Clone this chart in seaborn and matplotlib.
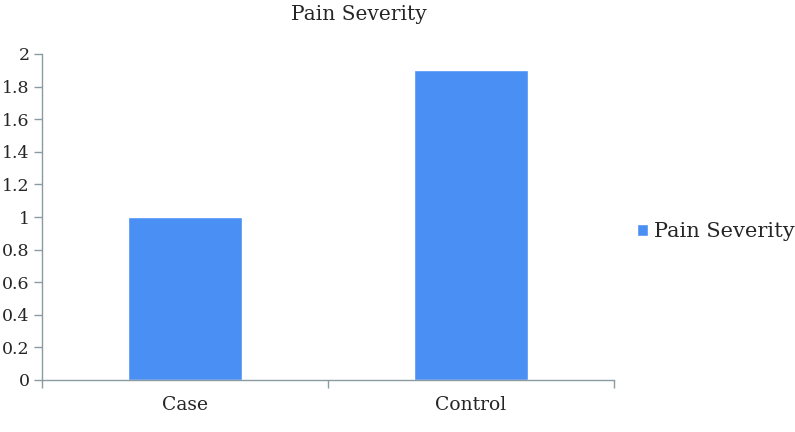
import matplotlib
matplotlib.use("Agg")
import matplotlib.pyplot as plt
import seaborn as sns
import pandas as pd
from matplotlib.ticker import FixedLocator, NullFormatter

categories = ["Case", "Control"]
values = [1.0, 1.9]
series_name = "Pain Severity"
title = "Pain Severity"
yticks = [0, 0.2, 0.4, 0.6, 0.8, 1, 1.2, 1.4, 1.6, 1.8, 2]
ytick_labels = ["0", "0.2", "0.4", "0.6", "0.8", "1", "1.2", "1.4", "1.6", "1.8", "2"]

df = pd.DataFrame({"Group": categories, "Value": values, "Series": series_name})

sns.set_style("white")
plt.rcParams['font.family'] = ['DejaVu Serif']

fig = plt.figure(figsize=(7.95, 4.32), dpi=100)
ax = fig.add_axes([42/795, 1-380/432, (614-42)/795, (380-54)/432])

bar_color = "#4A8FF3"
sns.barplot(data=df, x="Group", y="Value", hue="Series", palette=[bar_color],
            width=0.4, ax=ax, saturation=1)

ax.set_xlim(-0.5, 1.5)
ax.set_ylim(0, 2)
ax.set_yticks(yticks)
ax.set_yticklabels(ytick_labels, fontsize=12.5)
ax.set_xlabel("")
ax.set_ylabel("")
gray = "#8A9BA3"
ax.tick_params(axis='x', which='major', bottom=False, labelsize=13.5, pad=8)
ax.xaxis.set_minor_locator(FixedLocator([-0.5, 0.5, 1.5]))
ax.xaxis.set_minor_formatter(NullFormatter())
ax.tick_params(axis='x', which='minor', bottom=True, length=6, width=1, color=gray, direction='out')
ax.tick_params(axis='y', left=True, length=6, width=1, color=gray, direction='out', labelsize=12.5, pad=3)

for s in ["top", "right"]:
    ax.spines[s].set_visible(False)
for s in ["left", "bottom"]:
    ax.spines[s].set_color(gray)
    ax.spines[s].set_linewidth(1.0)

fig.text(359/795, 1-14/432, title, fontsize=14.5, ha='center', va='center')

leg = ax.legend(loc="center left", bbox_to_anchor=(1.026, 0.455), frameon=False, borderaxespad=0,
                fontsize=15, handlelength=0.5, handleheight=0.5, handletextpad=0.3)

fig.savefig("out.png", dpi=100)
